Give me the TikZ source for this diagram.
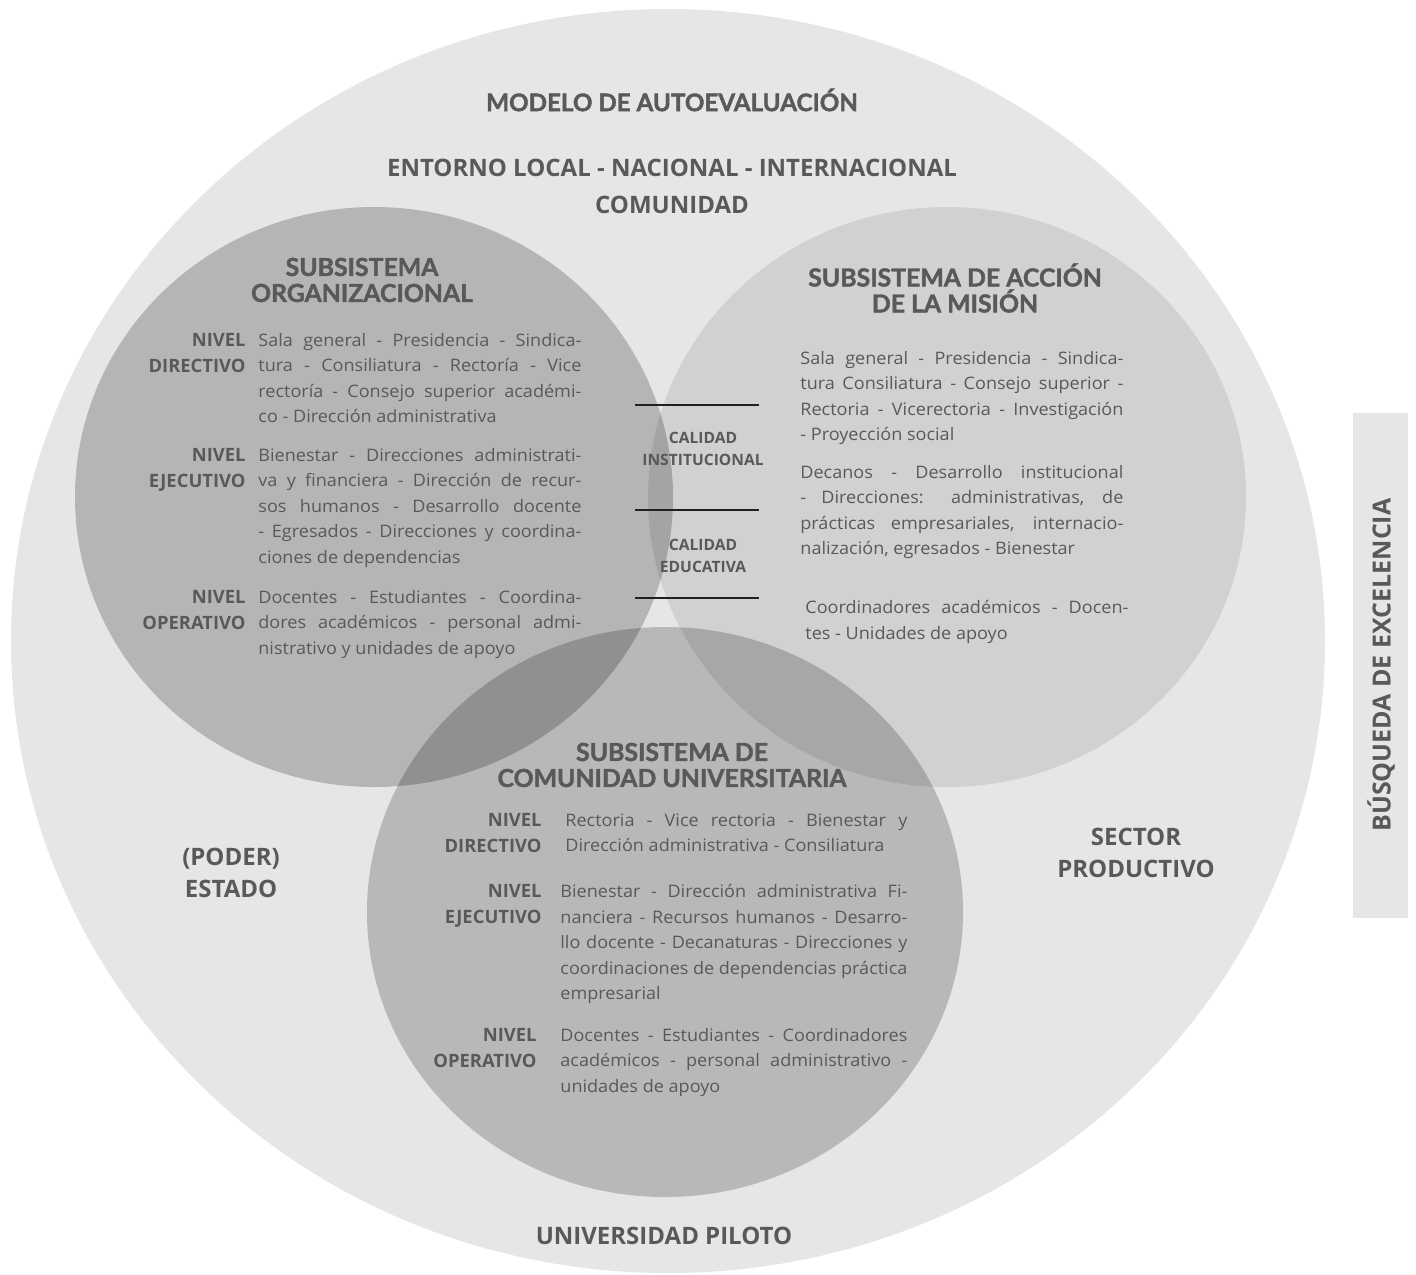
\documentclass[tikz,border=0pt]{standalone}
\usepackage{fontspec}
\setmainfont{Open Sans}
\newfontfamily\gruesa[BoldFeatures={FakeBold=1.6}]{Lato}
\newfontfamily\cuerpofont[FakeStretch=1.05]{Open Sans}
\usetikzlibrary{positioning}
\definecolor{fondo}{RGB}{229,230,230}
\definecolor{texto}{RGB}{88,89,91}
\definecolor{raya}{RGB}{35,31,32}
\tolerance=9999
\hyphenpenalty=10000

\begin{document}
\begin{tikzpicture}[x=0.5pt,y=-0.5pt,
    every node/.style={text=texto,inner sep=0pt},
    titulo/.style={font=\gruesa\bfseries\fontsize{12.4}{13}\selectfont,align=center},
    etiqueta/.style={font=\bfseries\fontsize{12}{16}\selectfont,align=center},
    nivel/.style={font=\bfseries\fontsize{9.2}{12.75}\selectfont,align=right},
    cuerpo/.style={font=\cuerpofont\fontsize{8.6}{12.75}\selectfont,
        text width=161.5pt,align=justify,anchor=north west},
    calidad/.style={font=\bfseries\fontsize{7.8}{11}\selectfont,align=center}]
    \useasboundingbox (0,0) rectangle (1416,1274);

    % Entorno
    \fill[fondo] (668,641) ellipse [x radius=657, y radius=632];
    \fill[fondo] (1353,413) rectangle (1408,918);

    % Subsistemas
    \fill[black,fill opacity=0.21] (374,497) ellipse [x radius=299, y radius=290];
    \fill[black,fill opacity=0.09] (947,497) ellipse [x radius=299, y radius=290];
    \fill[black,fill opacity=0.2] (665,912) ellipse [x radius=298, y radius=285];

    % Rayas de calidad
    \foreach \y in {405,510,598}
        \draw[raya,line width=1pt] (635,\y) -- (759,\y);
    \node[calidad] (calinst) at (703,449) {CALIDAD\\INSTITUCIONAL};
    \node[calidad] (caledu) at (703,556) {CALIDAD\\EDUCATIVA};

    % Textos del entorno
    \node[titulo,font=\gruesa\bfseries\fontsize{12.1}{14}\selectfont] (modelo) at (672,100) {MODELO DE AUTOEVALUACIÓN};
    \node[etiqueta] (entorno) at (672,168) {ENTORNO LOCAL - NACIONAL - INTERNACIONAL};
    \node[etiqueta] (comunidad) at (672,205) {COMUNIDAD};
    \node[etiqueta] (estado) at (231,873) {(PODER)\\ESTADO};
    \node[etiqueta] (sector) at (1136,853) {SECTOR\\PRODUCTIVO};
    \node[etiqueta] (piloto) at (664,1236) {UNIVERSIDAD PILOTO};
    \node[etiqueta,font=\bfseries\fontsize{12.5}{16}\selectfont,rotate=90] (busqueda) at (1381,665) {BÚSQUEDA DE EXCELENCIA};

    % Subsistema organizacional
    \node[titulo] (orgtit) at (362,280) {SUBSISTEMA\\ORGANIZACIONAL};
    \node[cuerpo] (orgdir) at (258,333) {Sala general - Presidencia - Sindica-\linebreak
        tura - Consiliatura - Rectoría - Vice\linebreak
        rectoría - Consejo superior académi-\linebreak
        co - Dirección administrativa};
    \node[cuerpo] (orgeje) at (258,448) {Bienestar - Direcciones administrati-\linebreak
        va y financiera - Dirección de recur-\linebreak
        sos humanos - Desarrollo docente\linebreak
        - Egresados - Direcciones y coordina-\linebreak
        ciones de dependencias};
    \node[cuerpo] (orgope) at (258,590) {Docentes - Estudiantes - Coordina-\linebreak
        dores académicos - personal admi-\linebreak
        nistrativo y unidades de apoyo};
    \node[nivel,left=6pt of orgdir.north west,anchor=north east] (orgdirlab) {NIVEL\\DIRECTIVO};
    \node[nivel,left=6pt of orgeje.north west,anchor=north east] (orgejelab) {NIVEL\\EJECUTIVO};
    \node[nivel,left=6pt of orgope.north west,anchor=north east] (orgopelab) {NIVEL\\OPERATIVO};

    % Subsistema de accion de la mision
    \node[titulo] (mistit) at (955,288) {SUBSISTEMA DE ACCIÓN\\DE LA MISIÓN};
    \node[cuerpo] (misdir) at (800,351) {Sala general - Presidencia - Sindica-\linebreak
        tura Consiliatura - Consejo superior -\linebreak
        Rectoria - Vicerectoria - Investigación\linebreak
        - Proyección social};
    \node[cuerpo] (miseje) at (800,465) {Decanos - Desarrollo institucional\linebreak
        - Direcciones: administrativas, de\linebreak
        prácticas empresariales, internacio-\linebreak
        nalización, egresados - Bienestar};
    \node[cuerpo] (misope) at (805,600) {Coordinadores académicos - Docen-\linebreak
        tes - Unidades de apoyo};

    % Subsistema de comunidad universitaria
    \node[titulo] (comtit) at (672,765) {SUBSISTEMA DE\\COMUNIDAD UNIVERSITARIA};
    \node[cuerpo,text width=171pt] (comdir) at (565,813) {Rectoria - Vice rectoria - Bienestar y\linebreak
        Dirección administrativa - Consiliatura};
    \node[cuerpo,text width=173.5pt] (comeje) at (560,884) {Bienestar - Dirección administrativa Fi-\linebreak
        nanciera - Recursos humanos - Desarro-\linebreak
        llo docente - Decanaturas - Direcciones y\linebreak
        coordinaciones de dependencias práctica\linebreak
        empresarial};
    \node[cuerpo,text width=173.5pt] (comope) at (560,1028) {Docentes - Estudiantes - Coordinadores\linebreak
        académicos - personal administrativo -\linebreak
        unidades de apoyo};
    \node[nivel,left=11.5pt of comdir.north west,anchor=north east] (comdirlab) {NIVEL\\DIRECTIVO};
    \node[nivel,left=9pt of comeje.north west,anchor=north east] (comejelab) {NIVEL\\EJECUTIVO};
    \node[nivel,left=11.5pt of comope.north west,anchor=north east] (comopelab) {NIVEL\\OPERATIVO};
\end{tikzpicture}
\end{document}
